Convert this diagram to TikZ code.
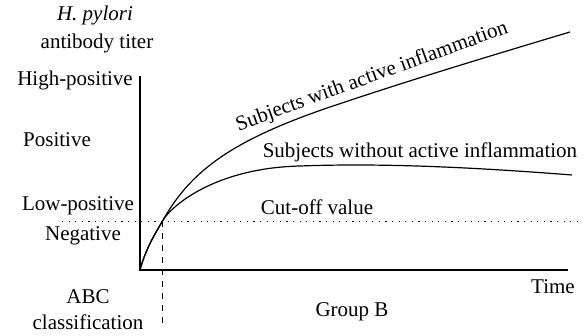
\documentclass[tikz,border=0pt]{standalone}
\usepackage{fontspec}
\setmainfont{Liberation Serif}
\begin{document}
\begin{tikzpicture}[x=0.5pt,y=-0.5pt,
  lbl/.style={font=\fontsize{10.5}{12}\selectfont,inner sep=0pt}]
\useasboundingbox (0,0) rectangle (586,336);
% Axes
\coordinate (O) at (140,270);
\coordinate (ytop) at (140,76);
\coordinate (xend) at (568,270);
\draw[line width=0.7pt] (ytop) -- (O) -- (xend);

% Cut-off level
\coordinate (cutL) at (62,221);
\coordinate (cutR) at (578,221);
\coordinate (X) at (162.5,221);
\coordinate (dashB) at (162.5,323);
\draw[dash pattern=on 0.6pt off 2.7pt] (cutL) -- (cutR);
\draw[dashed,line width=0.5pt] (X) -- (dashB);

% Titer curves
\draw[line width=0.6pt] (O) .. controls (146,248) and (155,234) .. (X)
  .. controls (190,172) and (230,141) .. (330,107)
  .. controls (410,80) and (490,56) .. (570,32);
\draw[line width=0.6pt] (O) .. controls (146,248) and (155,234) .. (X)
  .. controls (171,206) and (215,168) .. (300,166)
  .. controls (380,163) and (470,167) .. (572,175);

% Axis labels
\node[lbl] (pyl) at (95,15) {\itshape H. pylori};
\node[lbl] (titer) at (97,43) {antibody titer};
\node[lbl] (high) at (75,80) {High-positive};
\node[lbl] (pos) at (57,140) {Positive};
\node[lbl] (low) at (78,206) {Low-positive};
\node[lbl] (neg) at (83,236) {Negative};
\node[lbl,align=center] (abc) at (88,310) {ABC\\[1pt]classification};
\node[lbl] (time) at (553,287) {Time};
\node[lbl] (grp) at (352,312) {Group B};

% Curve labels
\node[lbl] (cut) at (317,207) {Cut-off value};
\node[lbl] (without) at (420,152) {Subjects without active inflammation};
\node[lbl,rotate=20] (with) at (372,77) {Subjects with active inflammation};
\end{tikzpicture}
\end{document}
